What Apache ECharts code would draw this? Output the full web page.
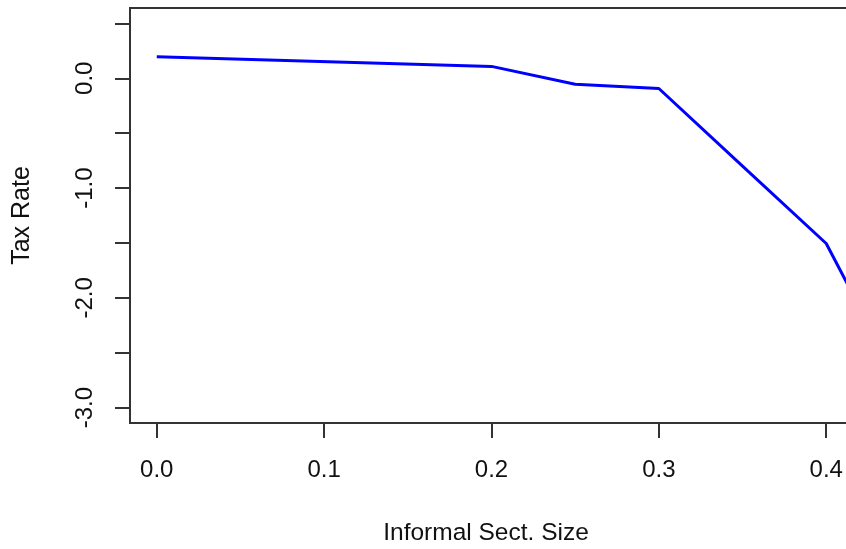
<!DOCTYPE html>
<html>
<head>
<meta charset="utf-8">
<script src="https://cdn.jsdelivr.net/npm/echarts@6/dist/echarts.min.js"></script>
<style>
  html, body { margin: 0; padding: 0; background: #fff; }
  #main { width: 846px; height: 549px; }
</style>
</head>
<body>
<div id="main"></div>
<script>
// informal sector size vs tax rate
var sectSize = [0, 0.2, 0.25, 0.3, 0.35, 0.4, 0.416];
var taxRate = [0.197, 0.108, -0.055, -0.093, -0.80, -1.505, -1.97];

var xTicks = [0, 0.1, 0.2, 0.3, 0.4];
var yTicks = [-3, -2.5, -2, -1.5, -1, -0.5, 0, 0.5];
var yLabels = [-3, -2, -1, 0];

var chartDom = document.getElementById('main');
var myChart = echarts.init(chartDom);

var lineData = [];
for (var i = 0; i < sectSize.length; i++) {
    lineData.push([sectSize[i], taxRate[i]]);
}

var txt = '#111';
var font = '"Liberation Sans", Arial, sans-serif';

var option = {
    animation: false,
    backgroundColor: '#fff',
    grid: {
        left: 130,
        top: 8,
        width: 723,
        height: 415,
        show: true,
        borderColor: '#333',
        borderWidth: 2,
        containLabel: false,
        outerBoundsMode: 'none'
    },
    xAxis: {
        type: 'value',
        min: -0.016,
        max: 0.416,
        name: 'Informal Sect. Size',
        nameLocation: 'middle',
        nameGap: 98,
        nameTextStyle: { color: txt, fontSize: 24.5, fontFamily: font, padding: [0, 11, 0, 0] },
        axisLine: { show: false, onZero: false },
        splitLine: { show: false },
        axisTick: { show: true, inside: false, length: 15, customValues: xTicks, lineStyle: { color: '#333', width: 2 } },
        axisLabel: {
            customValues: xTicks,
            margin: 35,
            color: txt,
            fontSize: 24,
            fontFamily: font,
            formatter: function (v) { return v.toFixed(1); }
        }
    },
    yAxis: {
        type: 'value',
        min: -3.14,
        max: 0.64,
        name: 'Tax Rate',
        nameLocation: 'middle',
        nameGap: 95,
        nameTextStyle: { color: txt, fontSize: 25, fontFamily: font },
        axisLine: { show: false, onZero: false },
        splitLine: { show: false },
        axisTick: { show: true, inside: false, length: 15, customValues: yTicks, lineStyle: { color: '#333', width: 2 } },
        axisLabel: {
            customValues: yLabels,
            rotate: 90,
            margin: 33,
            color: txt,
            fontSize: 24,
            fontFamily: font,
            formatter: function (v) { return v.toFixed(1); }
        }
    },
    series: [
        {
            type: 'line',
            data: lineData,
            showSymbol: false,
            lineStyle: { color: '#0000ff', width: 3 },
            clip: true
        }
    ]
};
option && myChart.setOption(option);
</script>
</body>
</html>
